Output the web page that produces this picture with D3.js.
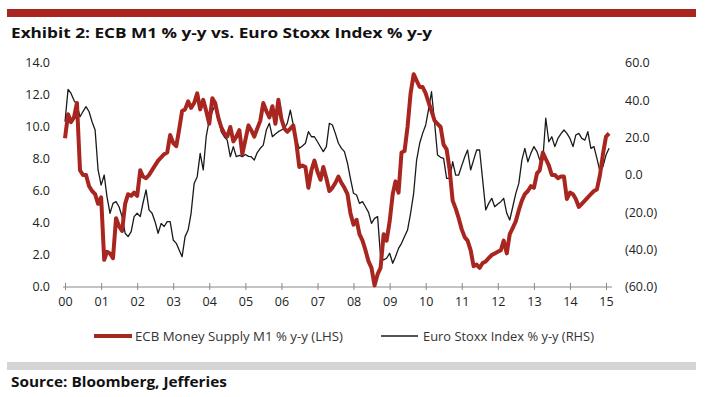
<!DOCTYPE html>
<html>
<head>
<meta charset="utf-8">
<script src="https://cdn.jsdelivr.net/npm/d3@7"></script>
<style>
  body { margin: 0; background: #fff; }
  text { font-family: 'Open Sans', sans-serif; }
</style>
</head>
<body>
<div id="chart"></div>
<script>
// Monthly series, first point is Jan 2000
var startMonth = new Date(2000, 0, 1)

// ECB M1 % y-y (left axis)
var m1Values = [
  9.3, 10.8, 10.3, 10.6, 11.5, 7.3, 7.0, 7.0, 6.3, 6.0, 5.8, 5.2,
  5.6, 1.7, 2.2, 2.1, 1.8, 4.3, 3.8, 3.5, 5.2, 5.8, 5.7, 5.9,
  5.7, 7.3, 6.9, 6.8, 7.0, 7.3, 7.6, 7.9, 8.1, 8.3, 8.4, 9.5,
  9.0, 8.8, 9.8, 11.0, 11.1, 11.6, 11.2, 11.5, 12.1, 11.1, 11.7, 11.0,
  10.2, 11.8, 11.5, 10.6, 10.0, 9.6, 9.4, 10.0, 9.1, 9.4, 9.8, 8.3,
  9.2, 10.1, 9.8, 9.4, 9.9, 10.4, 11.5, 11.0, 10.6, 11.3, 10.2, 11.7,
  10.5, 9.9, 9.7, 9.9, 10.1, 9.0, 7.5, 7.6, 7.5, 6.2, 7.3, 7.9,
  7.2, 6.7, 7.5, 6.8, 6.0, 6.2, 6.5, 6.9, 6.5, 6.2, 5.8, 4.6,
  3.9, 4.2, 3.3, 2.9, 2.3, 1.6, 1.2, 0.1, 0.8, 1.2, 3.3, 2.9,
  4.1, 5.8, 6.6, 5.9, 8.4, 8.5, 10.0, 12.1, 13.3, 12.9, 12.5, 12.5,
  12.1, 11.5, 11.0, 10.4, 10.2, 10.0, 8.9, 8.6, 7.3, 5.4, 4.9, 4.3,
  3.6, 3.1, 2.9, 2.3, 1.3, 1.4, 1.2, 1.5, 1.6, 1.8, 2.0, 2.1,
  2.2, 2.3, 2.9, 2.1, 3.3, 3.7, 4.1, 4.8, 5.4, 5.8, 6.0, 6.3,
  6.2, 7.1, 7.3, 8.4, 8.0, 7.6, 7.0, 7.0, 6.8, 6.9, 6.9, 5.5,
  5.9, 5.8, 5.5, 5.0, 5.2, 5.4, 5.6, 5.8, 6.0, 6.1, 7.0, 8.3,
  9.4, 9.6
]

// Euro Stoxx Index % y-y (right axis)
var stoxxValues = [
  28.5, 45.9, 43.8, 40.0, 37.5, 31.2, 34.0, 36.6, 33.9, 28.5, 24.1, 2.7,
  -5.4, 0.0, -11.6, -20.5, -15.2, -14.3, -17.0, -22.3, -31.2, -33.0, -30.3, -22.3,
  -20.5, -22.3, -15.0, -8.0, -18.7, -20.5, -25.0, -31.2, -25.9, -27.6, -25.0, -25.0,
  -34.8, -36.6, -40.0, -43.8, -33.0, -29.5, -20.5, -4.5, -0.9, 11.6, 2.7, 20.5,
  29.5, 34.0, 37.5, 31.2, 23.2, 20.5, 18.7, 9.8, 15.2, 9.8, 10.5, 9.8,
  11.0, 10.0, 9.8, 8.0, 12.0, 14.3, 16.0, 24.1, 27.7, 20.5, 22.0, 23.2,
  24.1, 25.0, 27.7, 34.8, 26.8, 18.7, 14.3, 15.5, 17.0, 23.2, 20.5, 20.5,
  17.8, 15.0, 12.5, 15.2, 27.7, 26.8, 22.3, 17.0, 14.3, 12.5, 6.3, -2.0,
  -9.8, -10.7, -15.2, -14.3, -17.0, -20.0, -25.9, -23.2, -22.3, -43.8, -45.5, -44.6,
  -41.9, -47.3, -43.8, -39.3, -36.6, -33.0, -29.5, -20.5, -9.8, 8.0, 17.0, 22.3,
  26.8, 35.7, 44.6, 28.0, 10.7, 9.5, 8.9, -1.8, -1.8, 7.1, -0.1, 0.0,
  5.0, 9.8, 13.4, 2.7, 8.0, 13.4, 13.4, -2.7, -18.7, -15.2, -12.5, -17.0,
  -15.5, -14.3, -12.5, -20.5, -24.1, -17.0, -10.0, -4.5, 8.0, 14.3, 7.1, 11.6,
  15.2, 12.5, 8.0, 8.0, 30.4, 17.8, 20.5, 15.2, 19.6, 22.0, 24.1, 22.3,
  19.6, 15.2, 21.4, 22.3, 19.6, 18.7, 23.2, 14.3, 15.2, 8.9, 1.8, 4.5,
  10.7, 14.3
]

// Axis tick values
var leftTicks = [0, 2, 4, 6, 8, 10, 12, 14]
var rightTicks = [-60, -40, -20, 0, 20, 40, 60]
var yearTicks = d3.range(2000, 2016)

var titleText = 'Exhibit 2: ECB M1 % y-y vs. Euro Stoxx Index % y-y'
var sourceText = 'Source: Bloomberg, Jefferies'
var legendLabels = ['ECB Money Supply M1 % y-y (LHS)', 'Euro Stoxx Index % y-y (RHS)']

// Layout
var width = 707
var height = 397
var plot = { left: 65, right: 606, top: 63, bottom: 287 }
var red = '#a8261f'

var svg = d3.select('#chart').append('svg')
  .attr('width', width)
  .attr('height', height)

// Header bar and title
svg.append('rect')
  .attr('x', 7).attr('y', 9)
  .attr('width', 689).attr('height', 8)
  .style('fill', red)

svg.append('text')
  .attr('x', 11).attr('y', 38)
  .attr('textLength', 421)
  .attr('lengthAdjust', 'spacingAndGlyphs')
  .style('font-size', '15px')
  .style('font-weight', 'bold')
  .style('fill', '#111')
  .text(titleText)

// Scales
var xScale = d3.scaleTime()
  .domain([new Date(2000, 0, 1), new Date(2015, 0, 1)])
  .range([plot.left, plot.right])

var yLeft = d3.scaleLinear()
  .domain([0, 14])
  .range([plot.bottom, plot.top])

var yRight = d3.scaleLinear()
  .domain([-60, 60])
  .range([plot.bottom, plot.top])

function monthDate (i) { return d3.timeMonth.offset(startMonth, i) }

// X axis
var xAxis = svg.append('g')
  .attr('transform', 'translate(0,' + plot.bottom + ')')
  .call(d3.axisBottom(xScale)
    .tickValues(yearTicks.map(function (y) { return new Date(y, 0, 1) }))
    .tickFormat(d3.timeFormat('%y'))
    .tickSizeOuter(0))

xAxis.select('.domain').remove()
xAxis.append('line')
  .attr('x1', 63).attr('x2', 612)
  .style('stroke', '#888').style('stroke-width', 1)
xAxis.selectAll('.tick line')
  .attr('y1', -4).attr('y2', 3)
  .style('stroke', '#888')
xAxis.selectAll('.tick text')
  .attr('y', 10)
  .style('font-size', '12.5px')
  .style('font-family', "'Open Sans', sans-serif")
  .style('fill', '#222')

// Left axis labels
svg.append('g').selectAll('text')
  .data(leftTicks)
  .enter().append('text')
  .attr('x', 50)
  .attr('y', function (d) { return yLeft(d) })
  .attr('dy', '.35em')
  .attr('text-anchor', 'end')
  .style('font-size', '12.5px')
  .style('fill', '#222')
  .text(function (d) { return d.toFixed(1) })

// Right axis labels, negatives in brackets
svg.append('g').selectAll('text')
  .data(rightTicks)
  .enter().append('text')
  .attr('x', 625)
  .attr('y', function (d) { return yRight(d) })
  .attr('dy', '.35em')
  .style('font-size', '12.5px')
  .style('fill', '#222')
  .text(function (d) { return d < 0 ? '(' + (-d).toFixed(1) + ')' : d.toFixed(1) })

// Lines
var m1Line = d3.line()
  .x(function (d, i) { return xScale(monthDate(i)) })
  .y(function (d) { return yLeft(d) })

var stoxxLine = d3.line()
  .x(function (d, i) { return xScale(monthDate(i)) })
  .y(function (d) { return yRight(d) })

svg.append('path')
  .datum(stoxxValues)
  .attr('d', stoxxLine)
  .style('fill', 'none')
  .style('stroke', '#1a1a1a')
  .style('stroke-width', 1.3)
  .style('stroke-linejoin', 'round')

svg.append('path')
  .datum(m1Values)
  .attr('d', m1Line)
  .style('fill', 'none')
  .style('stroke', red)
  .style('stroke-width', 4)
  .style('stroke-linejoin', 'round')

// Legend
var legend = svg.append('g')
legend.append('line')
  .attr('x1', 94).attr('x2', 132).attr('y1', 336).attr('y2', 336)
  .style('stroke', red).style('stroke-width', 4)
legend.append('text')
  .attr('x', 135).attr('y', 341)
  .attr('textLength', 208)
  .attr('lengthAdjust', 'spacingAndGlyphs')
  .style('font-size', '13px').style('fill', '#333')
  .text(legendLabels[0])
legend.append('line')
  .attr('x1', 381).attr('x2', 418).attr('y1', 336).attr('y2', 336)
  .style('stroke', '#1a1a1a').style('stroke-width', 1.5)
legend.append('text')
  .attr('x', 423).attr('y', 341)
  .attr('textLength', 171)
  .attr('lengthAdjust', 'spacingAndGlyphs')
  .style('font-size', '13px').style('fill', '#333')
  .text(legendLabels[1])

// Footer bar and source
svg.append('rect')
  .attr('x', 7).attr('y', 362)
  .attr('width', 689).attr('height', 8)
  .style('fill', '#d4d4d4')

svg.append('text')
  .attr('x', 11).attr('y', 387)
  .attr('textLength', 216)
  .attr('lengthAdjust', 'spacingAndGlyphs')
  .style('font-size', '14px')
  .style('font-weight', 'bold')
  .style('fill', '#111')
  .text(sourceText)
</script>
</body>
</html>
